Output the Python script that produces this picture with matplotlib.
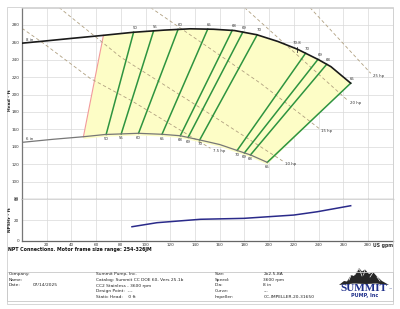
import numpy as np
import matplotlib
matplotlib.use("Agg")
import matplotlib.pyplot as plt
from matplotlib.patches import Rectangle, Polygon

# ---------------- data ----------------
max_q = [0, 15, 40, 63, 90, 115, 136, 155, 172, 190, 207, 223, 240, 250, 266]
max_h = [259, 261, 264.5, 267.6, 271.5, 274, 275.5, 275, 273.5, 268.7, 261, 252, 240, 232, 213]
min_q = [0, 25, 50, 67, 94, 113, 128, 144, 160, 173, 185, 198.5]
min_h = [145, 148.5, 151.5, 154, 155.4, 154.3, 152.6, 147.7, 142.5, 136.2, 130.5, 122]

eff_labels = ["50", "55", "60", "65", "68", "69", "70", "70", "69", "68", "65"]
eff_top_q = [90.3, 106.5, 126.3, 150.3, 170.1, 178.7, 190.3, 229.5, 239.5, 246.6, 266]
eff_bot_q = [68.1, 80.3, 94.3, 113.3, 128.1, 134.4, 143.8, 174.1, 180.0, 184.9, 198.5]
bep_q = 222.8
bep_label = "70.8"
por_left_top_q = 65.9
por_left_bot_q = 49.7

hp_names = ["7.5 hp", "10 hp", "15 hp", "20 hp", "25 hp"]
hp_q = [[0, 17.3, 55.1, 87.6, 152.5],
        [30, 79.5, 87.6, 147, 210.9],
        [104, 193, 240.3],
        [180, 263.3],
        [233, 282.2]]
hp_h = [[276.1, 258.9, 218.6, 193.7, 138.2],
        [300, 243.4, 235.9, 182.2, 123.6],
        [300, 212.9, 161.1],
        [300, 193.6],
        [300, 224.4]]

npsh_q = [89, 109.2, 144.4, 179.5, 220, 239, 266]
npsh_v = [13.5, 17.4, 20.7, 21.6, 24.8, 28, 33.8]

x_ticks = list(range(20, 281, 20))
head_ticks = list(range(80, 281, 20))
npsh_ticks = [0, 20, 40]

footer_c1 = ["Company:", "Name:", "Date:"]
footer_c1v = ["", "", "07/14/2025"]
footer_c2 = ["Summit Pump, Inc.", "Catalog: Summit CC DOE 60, Vers 25.1b",
             "CC2 Stainless - 3600 rpm", "Design Point:  ---", "Static Head:    0 ft"]
footer_c3 = ["Size:", "Speed:", "Dia:", "Curve:", "Impeller:"]
footer_c4 = ["2x2.5-8A", "3600 rpm", "8 in", "---", "CC-IMPELLER-20-31650"]
note = "NPT Connections. Motor frame size range: 254-326JM"

# ---------------- figure ----------------
W, H = 400, 309
fig = plt.figure(figsize=(W / 100, H / 100), dpi=100)
fig.patch.set_facecolor("white")

def fx(px):
    return px / W

def fy(py):
    return 1 - py / H

# outer frame
fig.patches.append(Rectangle((fx(7), fy(304)), fx(386), (297) / H, transform=fig.transFigure,
                             fill=False, edgecolor="#d0d0d0", lw=0.6))

left, right = 22, 392.7
axh = fig.add_axes([fx(left), fy(198.9), fx(right - left), (198.9 - 7.5) / H])
axn = fig.add_axes([fx(left), fy(240.7), fx(right - left), (240.7 - 198.9) / H], sharex=axh)

grid_c = "#d9d9d9"
for ax in (axh, axn):
    ax.set_xlim(0, 300)
    ax.set_xticks(list(range(0, 301, 20)))
    ax.grid(True, color=grid_c, lw=0.5)
    ax.set_axisbelow(True)
    ax.tick_params(length=0, labelsize=3, pad=2, colors="#333333")
    for s in ax.spines.values():
        s.set_color("#d0d0d0")
        s.set_linewidth(0.5)
    ax.spines["left"].set_color("#777777")
    ax.spines["left"].set_linewidth(0.9)

axh.set_ylim(80, 300)
axh.set_yticks(list(range(80, 301, 20)))
axh.set_yticklabels([str(t) if t in head_ticks else "" for t in range(80, 301, 20)])
axh.tick_params(axis="x", labelbottom=False)
axh.spines["bottom"].set_color("#666666")
axh.spines["bottom"].set_linewidth(0.9)

axn.set_ylim(0, 40.4)
axn.set_yticks(npsh_ticks)
axn.set_xticklabels([""] + [str(t) for t in x_ticks] + ["US gpm"])
for lab in axn.get_xticklabels():
    if lab.get_text() == "US gpm":
        lab.set_fontweight("bold")
        lab.set_horizontalalignment("right")
        lab.set_fontsize(3.3)
axn.spines["bottom"].set_color("#666666")
axn.spines["bottom"].set_linewidth(0.9)

# ---- yellow preferred region ----
qq_top = np.linspace(por_left_top_q, max_q[-1], 80)
hh_top = np.interp(qq_top, max_q, max_h)
qq_bot = np.linspace(por_left_bot_q, min_q[-1], 80)
hh_bot = np.interp(qq_bot, min_q, min_h)
poly = np.vstack([np.column_stack([qq_top, hh_top]),
                  np.column_stack([qq_bot[::-1], hh_bot[::-1] - 2.5])])
axh.add_patch(Polygon(poly, closed=True, facecolor="#fdfdc6", edgecolor="none", zorder=1))

# pink POR line
axh.plot([por_left_bot_q, por_left_top_q],
         [np.interp(por_left_bot_q, min_q, min_h), np.interp(por_left_top_q, max_q, max_h)],
         color="#f29a9a", lw=0.8, zorder=2)

# hp lines
for name, q, h in zip(hp_names, hp_q, hp_h):
    axh.plot(q, h, color="#b0a080", lw=0.6, dashes=(4, 3), zorder=2)
    axh.text(q[-1] + 2, h[-1] - 3, name, fontsize=2.8, color="#333333", ha="left", va="center", zorder=5)

# efficiency lines
for lab, qt, qb in zip(eff_labels, eff_top_q, eff_bot_q):
    ht = np.interp(qt, max_q, max_h)
    hb = np.interp(qb, min_q, min_h)
    axh.plot([qb, qt], [hb, ht], color="#2e9440", lw=1.1, zorder=3)
    axh.text(qt + 1.5, ht + 5, lab, fontsize=2.8, color="#333333", ha="center", va="center", zorder=5)
    axh.text(qb, hb - 5, lab, fontsize=2.8, color="#333333", ha="center", va="center", zorder=5)

# BEP mark
hb_ = np.interp(bep_q, max_q, max_h)
axh.plot([bep_q, bep_q], [hb_ - 3, hb_ + 3], color="#333333", lw=0.6, zorder=4)
axh.text(bep_q, hb_ + 7, bep_label, fontsize=2.8, color="#333333", ha="center", va="center", zorder=5)

# diameter curves
axh.plot(max_q, max_h, color="#1a1a1a", lw=1.2, zorder=4)
axh.plot(min_q, min_h, color="#777777", lw=0.9, zorder=4)
axh.text(3, max_h[0] + 3.5, "8 in", fontsize=2.8, color="#333333", ha="left", va="center")
axh.text(3, min_h[0] + 3.5, "6 in", fontsize=2.8, color="#333333", ha="left", va="center")

# NPSHr
axn.plot(npsh_q, npsh_v, color="#2a2a8a", lw=1.1)

# axis labels
fig.text(fx(10), fy(100), "Head - ft", rotation=90, fontsize=3.2, fontweight="bold",
         ha="center", va="center", color="#222222")
fig.text(fx(10), fy(220), "NPSHr - ft", rotation=90, fontsize=3.2, fontweight="bold",
         ha="center", va="center", color="#222222")

# note
fig.text(fx(8), fy(249.5), note, fontsize=3.4, fontweight="bold", ha="left", va="center", color="#111111")

# footer box
fig.patches.append(Rectangle((fx(7), fy(301)), fx(386), (301 - 271.7) / H, transform=fig.transFigure,
                             fill=False, edgecolor="#c8c8c8", lw=0.6))
rows = [273.7, 279.6, 285.5, 291.3, 297.1]
fs = 3.2
tc = "#222222"
for i, t in enumerate(footer_c1):
    fig.text(fx(8.3), fy(rows[i]), t, fontsize=fs, va="center", ha="left", color=tc)
    if footer_c1v[i]:
        fig.text(fx(32.3), fy(rows[i]), footer_c1v[i], fontsize=fs, va="center", ha="left", color=tc)
for i, t in enumerate(footer_c2):
    fig.text(fx(96), fy(rows[i]), t, fontsize=fs, va="center", ha="left", color=tc)
for i, t in enumerate(footer_c3):
    fig.text(fx(215), fy(rows[i]), t, fontsize=fs, va="center", ha="left", color=tc)
for i, t in enumerate(footer_c4):
    fig.text(fx(263.3), fy(rows[i]), t, fontsize=fs, va="center", ha="left", color=tc)

# logo
lax = fig.add_axes([fx(336), fy(302), fx(56), 37 / H])
lax.set_xlim(0, 56)
lax.set_ylim(0, 37)
lax.axis("off")
mount = [(3, 17), (8, 21), (11, 20.5), (15, 27), (18, 26), (23, 34), (26, 30.5), (29, 32.5),
         (33, 28), (37, 30), (41, 25.5), (46, 21), (53, 17), (40, 18.5), (30, 18), (18, 18.5)]
lax.add_patch(Polygon(mount, closed=True, facecolor="#262626", edgecolor="none"))
for (x0, y0, x1, y1) in [(23, 33.5, 19, 27.5), (23.5, 32.5, 26, 26), (29, 32, 27.5, 27),
                         (37, 29.5, 34, 25), (15, 26.5, 13, 22), (41, 25, 44, 21)]:
    lax.plot([x0, x1], [y0, y1], color="white", lw=0.5)
lax.text(28, 13.5, "SUMMIT", fontsize=8, fontweight="bold", family="Liberation Serif",
         color="#1e2f8a", ha="center", va="center")
lax.text(52.5, 13.5, "™", fontsize=2.5, color="#1e2f8a", ha="left", va="center")
lax.text(29, 6, "PUMP, Inc", fontsize=3.5, fontweight="bold", color="#1e2f8a", ha="center", va="center")

fig.savefig("out.png", dpi=100, facecolor="white")
